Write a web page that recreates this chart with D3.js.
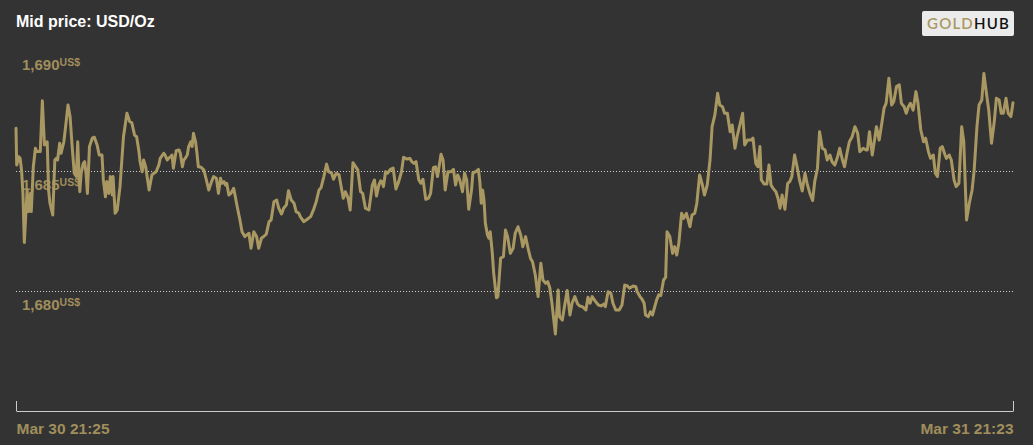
<!DOCTYPE html>
<html>
<head>
<meta charset="utf-8">
<script src="https://cdn.jsdelivr.net/npm/d3@7"></script>
<style>
  html, body { margin: 0; padding: 0; background: #333333; }
  svg { display: block; }
</style>
</head>
<body>
<svg id="chart" width="1033" height="445"></svg>
<script>
// ---- Data ----
const title = "Mid price: USD/Oz";
const startTime = "2021-03-30T21:25:00";
const endTime = "2021-03-31T21:23:00";
const xTickLabels = ["Mar 30 21:25", "Mar 31 21:23"];
const yTicks = [1680, 1685, 1690];
const gridTicks = [1680, 1685];
const yUnit = "US$";
// minutes elapsed since startTime
const minutes = [0,1,4,6,8,10,12,16,18,21,22,25,28,30,35,38,41,45,47,49,53,56,58,60,63,65,69,71,75,78,81,84,87,89,92,94,97,99,101,103,106,110,113,117,120,124,126,129,131,134,136,139,140,143,146,150,155,160,164,167,171,174,177,179,182,184,187,192,196,199,202,206,208,213,215,218,220,223,225,227,231,235,237,240,242,244,247,249,252,254,256,259,261,263,267,271,274,278,282,285,289,292,295,297,300,302,304,307,310,314,319,323,326,330,333,336,339,343,347,350,354,357,361,365,368,372,376,379,383,386,390,393,397,401,404,408,410,415,420,425,429,433,437,440,444,448,451,455,458,462,466,469,472,475,479,482,486,490,493,497,500,504,509,514,517,520,523,526,528,530,533,536,540,544,548,552,556,559,564,568,571,574,577,581,584,587,591,595,598,602,605,608,613,616,619,623,627,631,634,637,640,644,647,650,653,657,659,663,667,669,671,673,675,677,680,682,684,687,689,693,695,699,703,706,709,713,717,720,724,728,731,735,738,742,745,749,753,757,760,764,767,770,773,778,782,784,788,791,795,799,802,806,810,813,817,822,825,828,831,836,840,844,848,850,854,858,861,865,870,874,878,882,885,890,894,896,900,903,906,908,912,915,918,920,924,927,930,934,937,939,943,947,950,953,956,960,963,967,972,975,979,982,986,990,993,997,1001,1004,1008,1012,1015,1019,1022,1026,1030,1033,1037,1040,1044,1048,1051,1055,1060,1063,1067,1070,1073,1075,1079,1083,1086,1089,1092,1096,1099,1102,1105,1109,1113,1116,1119,1123,1127,1130,1134,1138,1141,1145,1149,1152,1156,1159,1163,1167,1170,1174,1177,1181,1185,1188,1192,1195,1199,1202,1206,1210,1214,1217,1222,1226,1228,1231,1235,1239,1241,1245,1248,1252,1255,1259,1263,1266,1270,1274,1277,1281,1284,1287,1290,1294,1298,1301,1305,1309,1312,1316,1319,1323,1326,1329,1333,1336,1340,1342,1346,1349,1353,1356,1360,1364,1367,1371,1375,1379,1382,1386,1389,1393,1396,1400,1403,1407,1411,1414,1418,1421,1424,1428,1431,1435,1438];
const prices = [1686.79,1685.26,1685.61,1685.54,1685.05,1684.08,1682.03,1684.22,1683.32,1684.08,1683.32,1685.19,1685.96,1685.82,1685.82,1687.94,1686.10,1686.23,1684.22,1683.67,1683.18,1685.47,1685.54,1685.47,1686.17,1685.75,1686.23,1686.72,1687.76,1687.28,1686.03,1684.92,1684.78,1686.23,1684.15,1684.92,1685.33,1685.40,1684.92,1684.08,1686.03,1686.38,1686.42,1686.10,1685.68,1685.68,1684.64,1683.94,1684.57,1684.08,1684.78,1684.01,1684.78,1683.25,1683.39,1684.36,1686.44,1687.42,1687.07,1687.03,1686.51,1686.44,1685.89,1685.40,1684.98,1685.47,1685.19,1684.22,1684.85,1684.92,1684.98,1685.26,1685.54,1685.75,1685.68,1685.47,1685.54,1685.61,1685.68,1685.13,1685.86,1685.89,1685.75,1685.19,1685.47,1685.54,1685.68,1686.03,1686.23,1686.03,1686.58,1686.23,1685.75,1685.19,1685.17,1685.05,1684.71,1684.22,1684.57,1684.78,1684.71,1684.08,1684.71,1684.50,1684.57,1684.43,1684.50,1684.01,1684.08,1684.29,1683.53,1682.97,1682.48,1682.28,1682.35,1682.42,1681.79,1682.48,1682.28,1681.79,1682.21,1682.28,1682.38,1682.90,1682.97,1683.73,1683.80,1683.46,1683.22,1683.46,1683.60,1684.19,1683.80,1683.67,1683.32,1683.25,1683.11,1682.90,1683.00,1683.11,1683.39,1683.73,1684.22,1684.32,1684.78,1685.30,1684.98,1684.94,1684.67,1684.92,1684.85,1684.36,1683.88,1684.15,1683.88,1683.39,1685.36,1685.19,1685.05,1684.15,1684.08,1683.46,1683.39,1684.43,1684.64,1683.97,1684.39,1684.60,1684.57,1684.36,1684.98,1684.92,1685.08,1685.13,1684.26,1684.57,1684.98,1685.58,1685.51,1685.54,1685.40,1685.33,1685.40,1684.64,1684.50,1684.67,1683.83,1683.88,1684.08,1685.15,1685.19,1684.78,1685.71,1685.47,1684.22,1684.98,1684.98,1685.08,1684.43,1684.85,1684.64,1684.15,1684.92,1684.64,1683.42,1684.22,1684.94,1684.98,1685.08,1684.57,1683.67,1684.22,1683.80,1682.83,1682.35,1682.21,1682.48,1681.58,1680.75,1679.73,1679.78,1681.38,1681.44,1682.55,1682.28,1681.58,1681.79,1682.42,1682.69,1682.35,1681.86,1682.28,1681.86,1681.38,1681.23,1680.68,1679.78,1681.17,1680.47,1680.33,1680.40,1680.13,1679.50,1678.22,1680.05,1678.94,1678.80,1679.36,1680.03,1679.01,1679.50,1679.78,1679.47,1679.39,1679.36,1679.22,1679.75,1679.50,1679.78,1679.57,1679.43,1679.39,1679.47,1679.36,1679.98,1679.92,1679.50,1679.22,1679.22,1679.43,1680.26,1680.22,1680.13,1680.22,1680.19,1679.98,1679.78,1679.67,1679.50,1679.01,1678.94,1679.15,1679.01,1679.22,1679.64,1679.85,1679.82,1680.47,1680.58,1682.48,1682.28,1681.58,1681.86,1681.51,1682.00,1683.25,1683.04,1683.25,1682.69,1683.18,1683.25,1683.67,1684.85,1684.43,1684.01,1684.43,1685.47,1686.86,1687.35,1688.25,1687.76,1687.69,1687.42,1687.42,1686.65,1686.93,1685.96,1686.44,1686.93,1687.42,1686.10,1686.30,1686.30,1686.38,1685.33,1685.19,1686.03,1684.64,1684.47,1684.47,1685.26,1684.43,1684.29,1684.15,1683.88,1683.46,1684.01,1683.42,1684.50,1684.57,1684.78,1685.68,1685.13,1684.64,1684.18,1684.92,1684.50,1684.08,1683.78,1684.57,1685.13,1686.65,1685.96,1685.89,1685.47,1685.68,1685.40,1685.26,1685.61,1685.96,1685.47,1685.19,1685.82,1686.23,1686.44,1686.86,1686.58,1685.82,1685.96,1685.89,1685.89,1686.65,1685.68,1686.44,1686.86,1686.30,1686.86,1687.63,1687.83,1688.88,1687.76,1687.90,1688.53,1688.60,1687.83,1687.69,1687.42,1687.69,1687.83,1687.55,1688.32,1687.83,1686.72,1686.23,1686.38,1685.82,1685.54,1685.68,1684.92,1684.78,1685.96,1686.03,1685.68,1685.54,1685.68,1685.47,1684.64,1684.36,1684.50,1686.86,1686.23,1682.97,1683.67,1684.22,1685.05,1686.86,1687.76,1687.97,1689.08,1688.18,1687.55,1686.17,1687.07,1688.04,1687.97,1687.42,1687.42,1688.04,1687.42,1687.28,1687.86];

// ---- Layout / style ----
const W = 1033, H = 445;
const plotLeft = 16, plotRight = 1013;
const yTop = 51.3, yBottom = 291.3;   // pixel positions of 1690 and 1680
const axisY = 411;
const gold = "#a99862";
const goldText = "#a08e5c";
const font = "'Liberation Sans', Arial, Helvetica, sans-serif";

const svg = d3.select("#chart");
svg.append("rect").attr("width", W).attr("height", H).attr("fill", "#333333");

const parse = d3.timeParse("%Y-%m-%dT%H:%M:%S");
const t0 = parse(startTime), t1 = parse(endTime);
const data = minutes.map((m, i) => ({ t: d3.timeMinute.offset(t0, m), p: prices[i] }));

const x = d3.scaleTime().domain([t0, t1]).range([plotLeft, plotRight]);
const y = d3.scaleLinear().domain([1680, 1690]).range([yBottom, yTop]);

// Title
svg.append("text")
  .attr("x", 16).attr("y", 27)
  .attr("fill", "#ffffff")
  .attr("font-family", font).attr("font-weight", "bold").attr("font-size", 16)
  .text(title);

// Logo
const logo = svg.append("g");
logo.append("rect").attr("x", 922).attr("y", 11).attr("width", 92).attr("height", 25)
  .attr("rx", 2).attr("fill", "#ebebeb");
const lt = logo.append("text").attr("x", 968.5).attr("y", 28.5).attr("text-anchor", "middle")
  .attr("font-family", "Lato, 'Open Sans', sans-serif").attr("font-size", 15)
  .attr("font-weight", 600).attr("letter-spacing", 1.2);
lt.append("tspan").attr("fill", gold).text("GOLD");
lt.append("tspan").attr("fill", "#111111").text("HUB");

// Gridlines
svg.append("g").selectAll("line").data(gridTicks).join("line")
  .attr("x1", plotLeft).attr("x2", plotRight)
  .attr("y1", d => Math.round(y(d)) + 0.5).attr("y2", d => Math.round(y(d)) + 0.5)
  .attr("stroke", "#cfcfcf").attr("stroke-width", 1).attr("stroke-dasharray", "1,2");

// Y labels
const yl = svg.append("g").selectAll("text").data(yTicks).join("text")
  .attr("x", 22).attr("y", d => y(d) + 19)
  .attr("fill", goldText).attr("font-family", font).attr("font-weight", "bold").attr("font-size", 15);
yl.append("tspan").text(d => d3.format(",")(d));
yl.append("tspan").attr("font-size", 10.5).attr("dy", -4).text(yUnit);

// X axis
const xAxis = d3.axisBottom(x).tickValues([t0, t1]).tickSizeInner(-10).tickSizeOuter(0)
  .tickFormat((d, i) => xTickLabels[i]);
const ax = svg.append("g").attr("transform", `translate(0,${axisY})`).call(xAxis);
ax.select(".domain").attr("stroke", "#cccccc").attr("stroke-width", 1);
ax.selectAll(".tick line").attr("stroke", "#cccccc");
ax.selectAll(".tick text")
  .attr("y", 23).attr("dy", 0)
  .attr("fill", goldText).attr("font-family", font).attr("font-weight", "bold").attr("font-size", 15.5)
  .attr("text-anchor", (d, i) => i === 0 ? "start" : "end");

// Line
const line = d3.line().x(d => x(d.t)).y(d => y(d.p));
svg.append("path").datum(data)
  .attr("d", line)
  .attr("fill", "none").attr("stroke", gold).attr("stroke-width", 3)
  .attr("stroke-linejoin", "round").attr("stroke-linecap", "round");
</script>
</body>
</html>
